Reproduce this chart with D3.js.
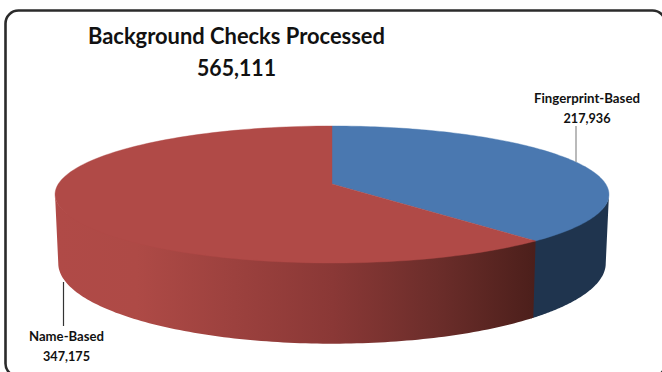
<!DOCTYPE html>
<html>
<head>
<meta charset="utf-8">
<script src="https://cdn.jsdelivr.net/npm/d3@7"></script>
<style>
    html, body { margin: 0; padding: 0; background: #fff; overflow: hidden; }
    text { font-family: Lato, "Open Sans", sans-serif; font-weight: 700; fill: #111; text-anchor: middle; }
</style>
</head>
<body>
<div id="chart"></div>
<script>
// Chart data
const titleText = "Background Checks Processed";
const categories = ["Fingerprint-Based", "Name-Based"];
const checks = [217936, 347175];
const topColors = ["#4a78b0", "#b04a47"];

const width = 662;
const height = 372;

const svg = d3.select("#chart")
    .append("svg")
    .attr("width", width)
    .attr("height", height);

// Red wall fades from the top colour to almost brown going right
const defs = svg.append("defs");
const wallGradient = defs.append("linearGradient")
    .attr("id", "redWall")
    .attr("gradientUnits", "userSpaceOnUse")
    .attr("x1", 55).attr("x2", 534)
    .attr("y1", 0).attr("y2", 0);
[[0, "#b04a47"], [0.17, "#ae4a46"], [0.58, "#8a3836"], [0.8, "#6b2d2a"], [1, "#4c1f1b"]].forEach(s => {
    wallGradient.append("stop").attr("offset", s[0]).attr("stop-color", s[1]);
});
const wallColors = ["#1f344e", "url(#redWall)"];

// Rounded frame, runs off the page on the right and bottom
svg.append("rect")
    .attr("x", 5.5)
    .attr("y", 10.5)
    .attr("width", 660)
    .attr("height", 366)
    .attr("rx", 13)
    .attr("fill", "#fff")
    .attr("stroke", "#2b2b2b")
    .attr("stroke-width", 2.6);

// Perspective tilted disc: angle on the unit circle to page position
const centerX = 332;
const centerY = 184;
const tilt = -0.1533;
function rim(a, w, yA, yB) {
    const u = Math.sin(a);
    const v = -Math.cos(a);
    const k = 1 + tilt * v;
    return [centerX + w * u / k, (yA * v + yB) / k];
}
const topRim = a => rim(a, 273.7, 38.7, centerY);
const bottomRim = a => rim(a, 270.5, 40, 251);

const pie = d3.pie().sort(null).startAngle(0).endAngle(2 * Math.PI);
const slices = pie(checks);
const line = d3.line();

function arcPoints(fn, a0, a1) {
    const n = 120;
    return d3.range(n + 1).map(i => fn(a0 + (a1 - a0) * i / n));
}

// Side walls only show between the two tangent points of the disc
const wallStart = Math.acos(tilt);
const wallEnd = 2 * Math.PI - wallStart;
// top edge of a wall pushed up under the top face (none at the tangents), hides the white seam
const tuckedRim = a => {
    const p = topRim(a);
    return [p[0], p[1] - 3 * (-Math.cos(a) + tilt) / (1 + tilt)];
};
slices.forEach((d, i) => {
    const a0 = Math.max(d.startAngle, wallStart);
    const a1 = Math.min(d.endAngle + 0.01, wallEnd); // small overlap hides the seam between walls
    const pts = arcPoints(tuckedRim, a0, a1).concat(arcPoints(bottomRim, a0, a1).reverse());
    svg.append("path")
        .attr("d", line(pts) + "Z")
        .attr("fill", wallColors[i]);
});

// Top faces
slices.forEach((d, i) => {
    const pts = [[centerX, centerY]].concat(arcPoints(topRim, d.startAngle, d.endAngle));
    svg.append("path")
        .attr("d", line(pts) + "Z")
        .attr("fill", topColors[i])
        .attr("stroke", topColors[i])
        .attr("stroke-width", 0.4);
});

// Leader lines
svg.append("line")
    .attr("x1", 576).attr("x2", 576)
    .attr("y1", 126).attr("y2", 162)
    .attr("stroke", "#8c8c8c").attr("stroke-width", 1.2);
svg.append("line")
    .attr("x1", 63.5).attr("x2", 63.5)
    .attr("y1", 282).attr("y2", 326)
    .attr("stroke", "#333").attr("stroke-width", 1.2);

// Lato runs wider than the original font, so squeeze each text to its width
function addText(str, x, y, size, len) {
    svg.append("text")
        .attr("x", x).attr("y", y)
        .attr("font-size", size)
        .attr("textLength", len)
        .attr("lengthAdjust", "spacingAndGlyphs")
        .text(str);
}

// Titles
const fmt = d3.format(",");
addText(titleText, 236.5, 44, 23, 297);
addText(fmt(d3.sum(checks)), 236.5, 76, 23, 79);

// Slice labels
const labelPos = [[587, 103, 106], [66.5, 341, 75]];
categories.forEach((c, i) => {
    addText(c, labelPos[i][0], labelPos[i][1], 13.5, labelPos[i][2]);
    addText(fmt(checks[i]), labelPos[i][0], labelPos[i][1] + 19.5, 13.5, 47);
});
</script>
</body>
</html>
